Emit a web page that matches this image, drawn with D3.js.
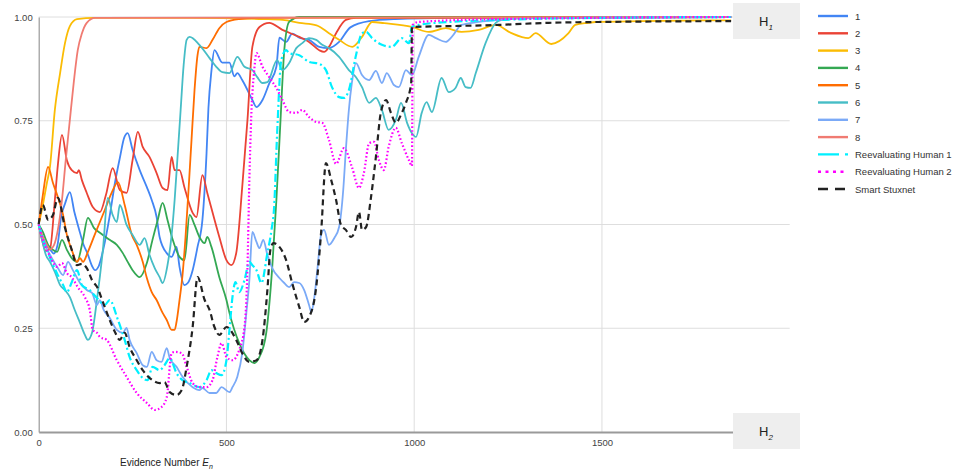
<!DOCTYPE html>
<html><head><meta charset="utf-8">
<script src="https://cdn.jsdelivr.net/npm/d3@7"></script>
<style>body{margin:0;background:#fff}svg{display:block}</style>
</head><body><svg id="c" width="967" height="472"></svg>
<script>
const seriesNames = ["1","2","3","4","5","6","7","8","Reevaluating Human 1","Reevaluating Human 2","Smart Stuxnet"];
const xTicks = [0, 500, 1000, 1500];
const yTicks = [0, 0.25, 0.5, 0.75, 1];

const series1 = [[0,0.50],[10,0.47],[20,0.45],[30,0.44],[40,0.43],[50,0.45],[60,0.52],[70,0.55],[83,0.578],[95,0.53],[107,0.49],[120,0.45],[130,0.43],[142,0.40],[150,0.39],[160,0.40],[172,0.44],[189,0.52],[203,0.60],[216,0.66],[228,0.71],[237,0.72],[250,0.68],[269,0.631],[288,0.59],[301,0.559],[314,0.518],[322,0.47],[341,0.431],[354,0.422],[367,0.446],[375,0.398],[388,0.354],[397,0.359],[410,0.39],[423,0.446],[436,0.511],[447,0.672],[452,0.78],[460,0.87],[468,0.92],[489,0.89],[508,0.89],[521,0.857],[529,0.865],[542,0.848],[556,0.824],[569,0.80],[580,0.783],[596,0.80],[614,0.84],[633,0.88],[641,0.95],[659,0.94],[675,0.96],[694,0.95],[720,0.945],[747,0.928],[773,0.925],[800,0.94],[830,0.975],[880,0.99],[950,0.995],[1100,0.998],[1844,1.0]];
const series2 = [[0,0.50],[9,0.463],[19,0.436],[30,0.441],[43,0.559],[51,0.643],[62,0.716],[75,0.655],[88,0.631],[102,0.624],[107,0.631],[115,0.607],[128,0.576],[144,0.542],[163,0.530],[179,0.571],[197,0.636],[216,0.583],[234,0.576],[250,0.655],[264,0.723],[277,0.687],[295,0.663],[314,0.624],[330,0.588],[343,0.583],[354,0.663],[362,0.631],[375,0.631],[388,0.590],[410,0.528],[420,0.518],[436,0.619],[449,0.576],[481,0.470],[500,0.414],[513,0.402],[526,0.431],[542,0.590],[556,0.752],[569,0.928],[588,0.976],[614,0.986],[649,0.969],[694,0.952],[720,0.940],[747,0.920],[760,0.916],[773,0.928],[792,0.961],[818,0.993],[845,0.998],[1844,1.0]];
const series3 = [[0,0.50],[11,0.547],[22,0.601],[30,0.639],[43,0.776],[57,0.865],[70,0.937],[83,0.978],[102,0.995],[150,0.998],[400,0.998],[600,0.995],[650,0.993],[694,0.986],[740,0.98],[773,0.961],[800,0.945],[835,0.928],[861,0.952],[888,0.988],[920,0.985],[994,0.976],[1039,0.964],[1084,0.973],[1126,0.964],[1172,0.969],[1217,0.981],[1259,0.961],[1304,0.949],[1323,0.961],[1365,0.935],[1411,0.961],[1429,0.981],[1464,0.986],[1482,0.988],[1600,0.99],[1844,0.992]];
const series4 = [[0,0.50],[11,0.482],[25,0.451],[38,0.439],[49,0.434],[62,0.463],[75,0.439],[88,0.419],[102,0.410],[118,0.463],[131,0.516],[147,0.492],[163,0.480],[189,0.463],[208,0.451],[224,0.431],[237,0.410],[250,0.390],[269,0.373],[288,0.407],[303,0.463],[317,0.511],[330,0.552],[343,0.511],[357,0.463],[375,0.422],[388,0.414],[402,0.523],[415,0.499],[428,0.470],[442,0.455],[449,0.470],[460,0.446],[481,0.373],[500,0.318],[508,0.287],[534,0.214],[561,0.173],[574,0.166],[588,0.181],[606,0.239],[622,0.398],[633,0.559],[644,0.752],[654,0.920],[667,0.988],[694,1.0],[1844,1.0]];
const series5 = [[0,0.50],[11,0.571],[25,0.639],[38,0.600],[51,0.566],[65,0.523],[75,0.475],[88,0.439],[102,0.410],[110,0.419],[118,0.410],[131,0.434],[149,0.475],[176,0.535],[195,0.578],[211,0.602],[229,0.547],[248,0.475],[261,0.451],[277,0.410],[288,0.371],[301,0.337],[314,0.318],[330,0.287],[341,0.270],[354,0.246],[362,0.246],[367,0.265],[375,0.318],[383,0.378],[391,0.470],[399,0.583],[407,0.704],[415,0.824],[423,0.908],[428,0.928],[447,0.925],[463,0.945],[481,0.973],[500,0.988],[534,0.995],[588,0.998],[1844,1.0]];
const series6 = [[0,0.50],[9,0.463],[19,0.427],[30,0.410],[43,0.386],[57,0.354],[70,0.342],[83,0.325],[96,0.294],[110,0.263],[123,0.234],[131,0.222],[142,0.239],[155,0.318],[171,0.439],[184,0.564],[197,0.523],[208,0.506],[216,0.547],[234,0.499],[250,0.475],[269,0.451],[282,0.467],[295,0.427],[309,0.395],[322,0.373],[330,0.359],[343,0.402],[354,0.475],[362,0.559],[370,0.667],[378,0.776],[386,0.884],[394,0.945],[402,0.952],[428,0.933],[455,0.901],[473,0.880],[489,0.867],[508,0.865],[529,0.904],[548,0.880],[569,0.872],[582,0.855],[596,0.841],[609,0.843],[635,0.896],[649,0.872],[667,0.889],[686,0.925],[702,0.937],[720,0.949],[739,0.945],[755,0.933],[773,0.925],[800,0.904],[826,0.872],[845,0.855],[861,0.831],[880,0.793],[898,0.805],[914,0.776],[932,0.728],[951,0.752],[965,0.793],[981,0.745],[994,0.720],[1005,0.711],[1020,0.769],[1033,0.795],[1047,0.771],[1073,0.853],[1092,0.819],[1110,0.829],[1124,0.853],[1137,0.831],[1150,0.829],[1164,0.865],[1190,0.937],[1217,0.986],[1233,0.993],[1304,0.998],[1844,1.0]];
const series7 = [[0,0.50],[17,0.451],[35,0.419],[51,0.395],[65,0.378],[78,0.410],[91,0.390],[110,0.359],[128,0.342],[142,0.335],[155,0.306],[163,0.318],[173,0.294],[189,0.275],[208,0.246],[224,0.239],[234,0.251],[242,0.222],[261,0.190],[277,0.161],[288,0.157],[301,0.193],[314,0.173],[327,0.169],[341,0.202],[349,0.178],[367,0.157],[383,0.133],[410,0.108],[428,0.101],[436,0.106],[455,0.094],[473,0.094],[487,0.108],[508,0.096],[516,0.108],[529,0.133],[542,0.190],[553,0.287],[561,0.366],[569,0.482],[580,0.458],[588,0.443],[598,0.463],[609,0.427],[622,0.395],[641,0.371],[654,0.359],[667,0.349],[680,0.361],[694,0.359],[707,0.342],[720,0.306],[726,0.289],[733,0.318],[742,0.390],[752,0.475],[760,0.487],[773,0.451],[787,0.467],[800,0.494],[811,0.583],[818,0.680],[826,0.776],[834,0.841],[845,0.889],[861,0.860],[880,0.848],[898,0.870],[914,0.841],[927,0.865],[946,0.836],[959,0.831],[978,0.872],[994,0.860],[1012,0.904],[1039,0.957],[1058,0.949],[1084,0.940],[1100,0.952],[1126,0.981],[1172,0.988],[1225,0.993],[1358,0.998],[1844,1.0]];
const series8 = [[0,0.50],[9,0.475],[22,0.451],[30,0.44],[41,0.451],[51,0.487],[62,0.559],[72,0.655],[83,0.752],[94,0.848],[104,0.920],[115,0.960],[128,0.986],[150,0.998],[1844,1.0]];
const human1 = [[0,0.50],[17,0.451],[35,0.410],[51,0.378],[65,0.354],[75,0.337],[88,0.361],[102,0.390],[115,0.354],[136,0.342],[155,0.323],[176,0.306],[189,0.318],[211,0.270],[229,0.222],[242,0.181],[261,0.149],[277,0.130],[290,0.125],[303,0.157],[322,0.149],[335,0.161],[349,0.178],[367,0.142],[383,0.125],[402,0.118],[428,0.108],[447,0.125],[460,0.149],[473,0.142],[487,0.137],[500,0.173],[508,0.246],[516,0.325],[524,0.361],[534,0.337],[548,0.366],[561,0.410],[569,0.402],[580,0.390],[593,0.359],[609,0.431],[620,0.487],[627,0.542],[635,0.720],[646,0.896],[659,0.920],[667,0.913],[694,0.908],[720,0.892],[747,0.887],[765,0.872],[781,0.831],[800,0.807],[813,0.805],[826,0.824],[845,0.908],[861,0.961],[872,0.964],[888,0.949],[914,0.933],[940,0.928],[967,0.949],[986,0.937],[994,0.976],[1012,0.981],[1092,0.988],[1225,0.993],[1490,0.998],[1844,1.0]];
const human2 = [[0,0.50],[11,0.463],[22,0.439],[35,0.414],[49,0.398],[62,0.407],[75,0.383],[88,0.373],[104,0.349],[123,0.325],[136,0.294],[144,0.246],[155,0.239],[163,0.229],[181,0.222],[208,0.173],[234,0.133],[261,0.094],[288,0.070],[309,0.053],[327,0.060],[341,0.084],[354,0.190],[362,0.193],[381,0.190],[394,0.157],[410,0.118],[428,0.108],[447,0.108],[463,0.125],[476,0.181],[487,0.214],[500,0.181],[516,0.173],[534,0.198],[548,0.253],[556,0.398],[561,0.607],[566,0.759],[574,0.872],[580,0.913],[596,0.880],[614,0.855],[633,0.829],[649,0.800],[667,0.771],[686,0.769],[702,0.776],[720,0.759],[739,0.747],[755,0.745],[773,0.704],[792,0.646],[813,0.684],[834,0.639],[853,0.588],[866,0.624],[880,0.696],[893,0.699],[906,0.655],[919,0.631],[932,0.687],[951,0.733],[967,0.696],[986,0.655],[994,0.641],[996,0.981],[1012,0.988],[1225,0.995],[1844,1.0]];
const stuxnet = [[0,0.501],[11,0.547],[25,0.511],[38,0.523],[51,0.564],[70,0.492],[88,0.439],[102,0.402],[115,0.405],[128,0.395],[142,0.366],[157,0.347],[171,0.313],[189,0.270],[203,0.241],[216,0.222],[229,0.239],[242,0.205],[261,0.173],[277,0.149],[303,0.125],[322,0.118],[335,0.120],[349,0.096],[367,0.089],[381,0.101],[394,0.157],[410,0.253],[423,0.373],[442,0.318],[455,0.294],[468,0.253],[481,0.234],[500,0.253],[526,0.222],[542,0.190],[561,0.169],[580,0.173],[596,0.222],[609,0.342],[617,0.439],[625,0.455],[641,0.446],[659,0.414],[675,0.359],[694,0.301],[707,0.265],[720,0.277],[739,0.349],[752,0.480],[765,0.648],[779,0.607],[792,0.559],[805,0.499],[818,0.487],[832,0.470],[845,0.494],[853,0.530],[861,0.487],[872,0.494],[885,0.566],[898,0.663],[911,0.769],[925,0.800],[938,0.769],[951,0.745],[967,0.769],[978,0.793],[992,0.841],[994,0.976],[1092,0.978],[1225,0.981],[1358,0.986],[1490,0.988],[1844,0.990]];

const seriesData = [series1, series2, series3, series4, series5, series6, series7, series8, human1, human2, stuxnet];
const seriesColors = ["#4285f4","#ea4335","#fbbc04","#34a853","#ff6d01","#46bdc6","#7baaf7","#f07b72","#00f0ff","#ff00ff","#222222"];
const lineDash = [null,null,null,null,null,null,null,null,"8,3,2,3","1.6,2.2","6,4"];
const legendDash = [null,null,null,null,null,null,null,null,"21,6,4,6","3,4.5","10,7"];

const svg = d3.select("#c");
svg.append("rect").attr("width",967).attr("height",472).attr("fill","#fff");
const x = d3.scaleLinear().domain([0,2000]).range([38.7,789.7]);
const y = d3.scaleLinear().domain([0,1]).range([432,17]);
const font = "'Liberation Sans', Arial, Helvetica, sans-serif";

// grid
svg.append("g").selectAll("line").data(yTicks.filter(d=>d>0)).join("line")
  .attr("x1",x(0)).attr("x2",x(2000)).attr("y1",d=>y(d)).attr("y2",d=>y(d))
  .attr("stroke","#dedede").attr("stroke-width",1);
svg.append("g").selectAll("line").data(xTicks.filter(d=>d>0)).join("line")
  .attr("x1",d=>x(d)).attr("x2",d=>x(d)).attr("y1",y(0)).attr("y2",y(1))
  .attr("stroke","#dedede").attr("stroke-width",1);

// axes
const yAxis = svg.append("g").attr("transform",`translate(${x(0)},0)`)
  .call(d3.axisLeft(y).tickValues(yTicks).tickFormat(d3.format(".2f")).tickSize(0).tickPadding(6));
yAxis.select(".domain").attr("stroke","#999").attr("stroke-width",1.2);
yAxis.selectAll("text").attr("font-family",font).attr("font-size",9.5).attr("fill","#444");
const xAxis = svg.append("g").attr("transform",`translate(0,${y(0)})`)
  .call(d3.axisBottom(x).tickValues(xTicks).tickFormat(d3.format("d")).tickSize(0).tickPadding(7));
xAxis.select(".domain").attr("stroke","#9a9a9a").attr("stroke-width",2);
xAxis.selectAll("text").attr("font-family",font).attr("font-size",9.5).attr("fill","#444");

// lines
const line = d3.line().x(d=>x(d[0])).y(d=>y(d[1])).curve(d3.curveMonotoneX);
const lg = svg.append("g").attr("fill","none");
seriesData.forEach((data,i)=>{
  lg.append("path").datum(data).attr("d",line)
    .attr("stroke",seriesColors[i])
    .attr("stroke-width", i>=8 ? 2.2 : 1.8)
    .attr("stroke-dasharray",lineDash[i])
    .attr("stroke-linejoin","round");
});

// H boxes
const boxes = [{label:"H",sub:"1",y:3},{label:"H",sub:"2",y:413}];
boxes.forEach(b=>{
  svg.append("rect").attr("x",733).attr("y",b.y).attr("width",67).attr("height",36).attr("fill","#eeeeee");
  const t = svg.append("text").attr("x",759).attr("y",b.y+23).attr("font-family",font).attr("font-size",13).attr("fill","#222");
  t.append("tspan").text(b.label);
  t.append("tspan").attr("dy",4).attr("font-size",8).attr("font-style","italic").text(b.sub);
});

// axis title
const title = svg.append("text").attr("x",120).attr("y",466).attr("font-family",font).attr("font-size",10).attr("fill","#222");
title.append("tspan").text("Evidence Number ");
title.append("tspan").attr("font-style","italic").text("E");
title.append("tspan").attr("dy",3).attr("font-size",7).attr("font-style","italic").text("n");

// legend
const leg = svg.append("g");
seriesNames.forEach((n,i)=>{
  const ly = 16 + i*17.3;
  leg.append("line").attr("x1",818).attr("x2",848).attr("y1",ly).attr("y2",ly)
    .attr("stroke",seriesColors[i]).attr("stroke-width",i===9?2.6:2.4)
    .attr("stroke-dasharray",legendDash[i]);
  leg.append("text").attr("x",855).attr("y",ly+3.5).attr("font-family",font).attr("font-size",9.5).attr("fill","#333").text(n);
});
</script></body></html>
